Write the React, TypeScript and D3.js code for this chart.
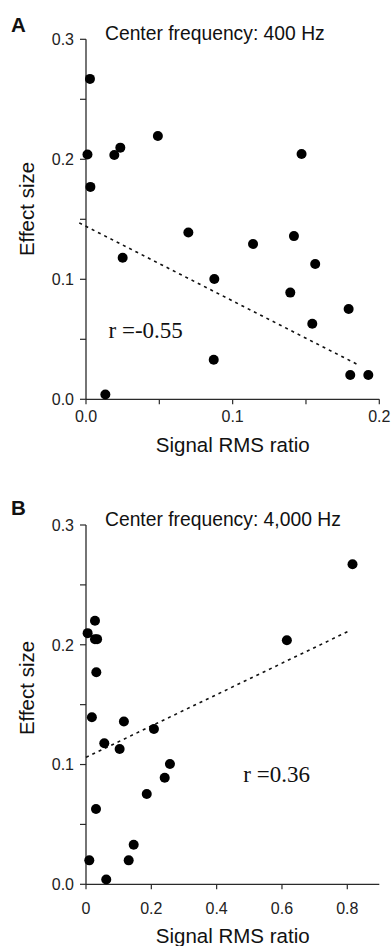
import React from "react";
import * as d3 from "d3";

// Panel A: center frequency 400 Hz
const rmsA = [0.0027, 0.001, 0.0193, 0.0234, 0.049, 0.147, 0.003, 0.0698, 0.025, 0.1139, 0.1418, 0.1563, 0.0875, 0.1393, 0.1791, 0.1543, 0.0871, 0.1802, 0.1925, 0.0132];
const effA = [0.267, 0.204, 0.2036, 0.2097, 0.2194, 0.2044, 0.177, 0.139, 0.118, 0.1294, 0.136, 0.1128, 0.1003, 0.0889, 0.0753, 0.063, 0.033, 0.0203, 0.0203, 0.004];
const fitA = [[-0.0046, 0.147], [0.1868, 0.028]];

// Panel B: center frequency 4,000 Hz
const rmsB = [0.816, 0.0275, 0.005, 0.0275, 0.034, 0.615, 0.0316, 0.018, 0.116, 0.208, 0.056, 0.103, 0.257, 0.241, 0.186, 0.0306, 0.146, 0.0101, 0.1307, 0.062];
const effB = [0.2673, 0.22, 0.2097, 0.2047, 0.2047, 0.2038, 0.177, 0.1395, 0.136, 0.1297, 0.1178, 0.113, 0.1005, 0.089, 0.0754, 0.0629, 0.033, 0.02, 0.02, 0.004];
const fitB = [[0, 0.106], [0.806, 0.2116]];

const yTicks = [0, 0.1, 0.2, 0.3];
const yTickLabels = ["0.0", "0.1", "0.2", "0.3"];
const yMinor = [0.05, 0.15, 0.25];
const xTicksA = [0, 0.1, 0.2];
const xTickLabelsA = ["0.0", "0.1", "0.2"];
const xMinorA = [0.05, 0.15];
const xTicksB = [0, 0.2, 0.4, 0.6, 0.8];
const xTickLabelsB = ["0", "0.2", "0.4", "0.6", "0.8"];
const xMinorB: number[] = [];

const AX = "#2a2a2a";
const SANS = "Arial, 'Liberation Sans', sans-serif";
const SERIF = "'Times New Roman', 'Liberation Serif', serif";

type PanelProps = {
  letter: string;
  letterY: number;
  title: string;
  titleY: number;
  xDomain: [number, number];
  yRange: [number, number];
  xs: number[];
  ys: number[];
  fit: number[][];
  xTicks: number[];
  xLabels: string[];
  xMinor: number[];
  rText: string;
  rX: number;
  rY: number;
  xLabelY: number;
  xTitleY: number;
  yTitleY: number;
};

function Panel(p: PanelProps) {
  const x = d3.scaleLinear().domain(p.xDomain).range([86, 379.3]);
  const y = d3.scaleLinear().domain([0, 0.3]).range(p.yRange);
  const y0 = y(0);
  const line = d3.line<number[]>().x((d) => x(d[0])).y((d) => y(d[1]));
  return (
    <g>
      <text x={11} y={p.letterY} fontFamily={SANS} fontWeight="bold" fontSize={20.5} fill="#111">{p.letter}</text>
      <text x={105} y={p.titleY} fontFamily={SANS} fontSize={19.3} fill="#111">{p.title}</text>
      {/* y axis */}
      <line x1={86} x2={86} y1={y(0.3)} y2={y0} stroke={AX} strokeWidth={1.3} />
      {yTicks.map((t, i) => (
        <g key={"yt" + i}>
          <line x1={80} x2={86} y1={y(t)} y2={y(t)} stroke={AX} strokeWidth={1.2} />
          <text x={74} y={y(t)} dy="0.36em" textAnchor="end" fontFamily={SANS} fontSize={16} fill="#222">{yTickLabels[i]}</text>
        </g>
      ))}
      {yMinor.map((t, i) => (
        <line key={"ym" + i} x1={80} x2={86} y1={y(t)} y2={y(t)} stroke={AX} strokeWidth={1.2} />
      ))}
      {/* x axis */}
      <line x1={86} x2={379.3} y1={y0} y2={y0} stroke={AX} strokeWidth={1.3} />
      {p.xTicks.map((t, i) => (
        <g key={"xt" + i}>
          <line x1={x(t)} x2={x(t)} y1={y0} y2={y0 + 5} stroke={AX} strokeWidth={1.2} />
          <text x={x(t)} y={p.xLabelY} textAnchor="middle" fontFamily={SANS} fontSize={16} fill="#222">{p.xLabels[i]}</text>
        </g>
      ))}
      {p.xMinor.map((t, i) => (
        <line key={"xm" + i} x1={x(t)} x2={x(t)} y1={y0} y2={y0 + 5} stroke={AX} strokeWidth={1.2} />
      ))}
      {/* fit */}
      <path d={line(p.fit) || ""} fill="none" stroke="#111" strokeWidth={1.6} strokeDasharray="3,4" />
      {/* points */}
      {p.xs.map((v, i) => (
        <circle key={"p" + i} cx={x(v)} cy={y(p.ys[i])} r={5} fill="#000" />
      ))}
      <text x={p.rX} y={p.rY} fontFamily={SERIF} fontSize={23} fill="#111">{p.rText}</text>
      <text x={232.7} y={p.xTitleY} textAnchor="middle" fontFamily={SANS} fontSize={20.5} fill="#111">Signal RMS ratio</text>
      <text transform={`translate(34,${p.yTitleY}) rotate(-90)`} textAnchor="middle" fontFamily={SANS} fontSize={20.5} fill="#111">Effect size</text>
    </g>
  );
}

export default function App() {
  return (
    <svg width={391} height={946} style={{ position: "absolute", left: 0, top: 0, background: "#fff" }}>
      <rect width={391} height={946} fill="#fff" />
      <Panel
        letter="A"
        letterY={32}
        title="Center frequency: 400 Hz"
        titleY={39.7}
        xDomain={[0, 0.2]}
        yRange={[399.3, 39.3]}
        xs={rmsA}
        ys={effA}
        fit={fitA}
        xTicks={xTicksA}
        xLabels={xTickLabelsA}
        xMinor={xMinorA}
        rText="r =-0.55"
        rX={108.5}
        rY={338.3}
        xLabelY={421.5}
        xTitleY={452}
        yTitleY={209}
      />
      <Panel
        letter="B"
        letterY={515}
        title="Center frequency: 4,000 Hz"
        titleY={525.5}
        xDomain={[0, 0.898]}
        yRange={[884.3, 525]}
        xs={rmsB}
        ys={effB}
        fit={fitB}
        xTicks={xTicksB}
        xLabels={xTickLabelsB}
        xMinor={xMinorB}
        rText="r =0.36"
        rX={243.3}
        rY={782.3}
        xLabelY={914}
        xTitleY={943}
        yTitleY={688}
      />
    </svg>
  );
}
